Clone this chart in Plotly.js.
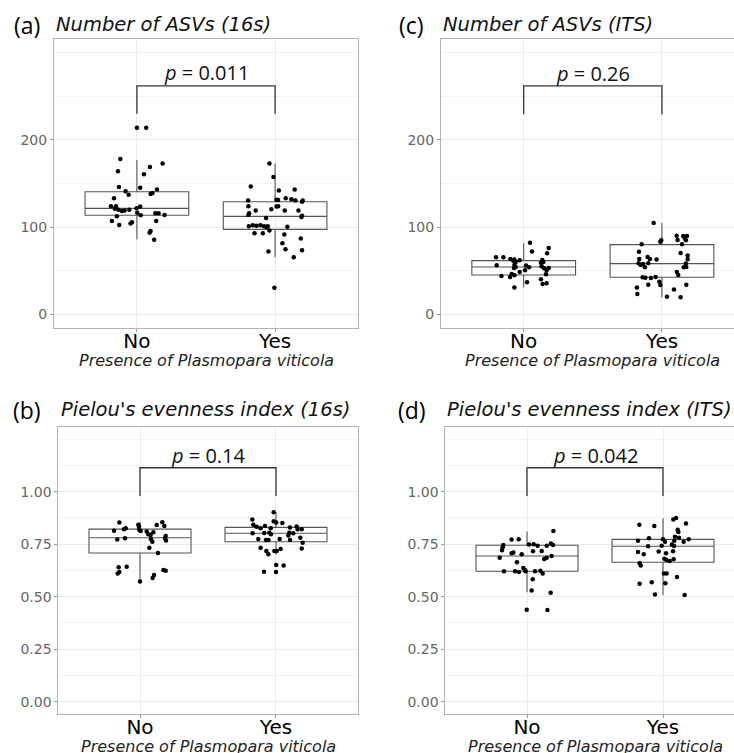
<!DOCTYPE html>
<html>
<head>
<meta charset="utf-8">
<script src="https://cdn.plot.ly/plotly-3.0.1.min.js"></script>
<style>html,body{margin:0;padding:0;background:#fff;}#chart{width:734px;height:753px;}</style>
</head>
<body>
<div id="chart"></div>
<script>
// ---------- data ----------
const categories = ['No', 'Yes'];
const xAxisTitle = 'Presence of Plasmopara viticola';
const panelLetters = ['(a)', '(c)', '(b)', '(d)'];
const panelTitles = ['Number of ASVs (16s)', 'Number of ASVs (ITS)', "Pielou's evenness index (16s)", "Pielou's evenness index (ITS)"];
const pValues = ['0.011', '0.26', '0.14', '0.042'];

// (a) Number of ASVs 16s
const aNoY = [214,214,178,173,169,164,160.5,146,145,143,141,137,138,139,133,124,124,121,120,118.5,119,120,121.5,123.5,116,116,114,116.5,113.5,112.5,107,107,105.5,104,102.5,95.5,93.5,85.5];
const aNoJ = [0.00,0.067,-0.12,0.186,0.094,-0.137,0.051,-0.13,0.024,0.145,-0.082,-0.06,0.099,0.113,-0.166,-0.188,-0.152,-0.159,-0.133,-0.108,-0.089,-0.055,-0.002,0.024,0.133,0.157,0.2,0.002,0.027,-0.145,-0.181,0.14,-0.036,-0.046,-0.128,0.099,0.092,0.125];
const aYesY = [173,157.5,146.5,142,143,133,132,130.5,130.5,129,130.5,131.5,131,124,119,120.5,123.5,124,119,119,116,114,113,111.5,110.5,101,102,101.5,102,101,100,101,96,100.5,93,93,91.5,87,81.5,74.5,72,73.5,65.5,30.5];
const aYesJ = [-0.041,-0.012,-0.176,0.027,0.142,0.077,0.118,0.147,0.2,0.195,-0.195,0.01,0.022,-0.193,-0.14,-0.027,0.01,0.022,0.07,0.169,-0.188,-0.193,0.195,0.19,-0.065,-0.19,-0.161,-0.135,-0.106,-0.08,-0.063,-0.053,-0.041,0.089,-0.149,-0.089,0.067,0.186,0.053,0.075,-0.048,0.195,0.135,-0.005];
const aQ1 = [113.5, 97.4], aMed = [121.5, 112.3], aQ3 = [140.6, 129.1], aLo = [86, 65.3], aHi = [177, 173];
const aBracket = [230, 262, 277]; // leg bottom, bar, label

// (c) Number of ASVs ITS
const cNoY = [82,72,76,70,65.3,65.3,63.4,61.5,60,62,62.7,62.3,60,59.2,56.2,56.6,54.3,53.1,55.8,54,55,52.7,53.1,48.5,50.4,46.2,44.7,42.8,43.9,50.4,45.9,36.7,40.1,34.8,35.5,30.6];
const cNoJ = [0.046,0.06,0.181,0.169,-0.2,-0.147,-0.096,-0.075,-0.058,-0.029,-0.067,0.135,0.142,0.125,-0.195,-0.067,-0.058,-0.07,0.017,0.039,0.13,0.147,0.181,-0.029,0.01,-0.087,-0.067,-0.099,-0.161,0.166,0.161,0.024,0.125,0.137,0.166,-0.067];
const cYesY = [104.7,83.3,84.8,90.2,85.2,89.8,89.8,87.5,84.8,80.3,80.3,71.8,70.3,67.3,63.1,63.4,65.7,63.4,62.7,58.5,57.7,56.6,58.5,53.9,58.1,54.3,53.9,48.5,45.1,42.4,42,41.6,42.8,37.4,33.6,34,34,30.6,23.3,20.2,28.3,19.5];
const cYesJ = [-0.06,-0.012,-0.005,0.106,0.113,0.154,0.181,0.164,0.173,0.145,-0.147,-0.166,0.135,0.186,0.186,-0.164,-0.104,-0.087,-0.039,-0.169,-0.137,-0.154,-0.099,-0.123,0.173,0.176,0.157,0.108,0.118,-0.14,-0.12,-0.08,-0.046,-0.019,-0.012,-0.099,0.176,-0.181,-0.178,0.036,0.087,0.135];
const cQ1 = [45.1, 42.4], cMed = [54.3, 58.1], cQ3 = [61.5, 79.9], cLo = [30.6, 19.1], cHi = [81.4, 104.7];
const cBracket = [229.5, 262, 276];

// (b) Pielou 16s
const bNoY = [0.853,0.843,0.833,0.841,0.854,0.837,0.826,0.821,0.814,0.818,0.813,0.810,0.797,0.807,0.794,0.789,0.780,0.768,0.772,0.778,0.773,0.762,0.733,0.708,0.640,0.618,0.611,0.643,0.603,0.589,0.627,0.624,0.572];
const bNoJ = [-0.152,-0.012,-0.007,0.123,0.164,0.179,-0.105,-0.118,-0.191,-0.005,0.005,0.049,0.061,0.098,0.078,0.189,0.184,0.191,-0.167,-0.11,0.081,0.091,0.069,0.132,-0.157,-0.152,-0.164,-0.098,0.103,0.093,0.172,0.189,0.0];
const bYesY = [0.902,0.868,0.859,0.853,0.851,0.843,0.833,0.826,0.837,0.826,0.830,0.834,0.821,0.821,0.805,0.802,0.792,0.802,0.803,0.805,0.797,0.781,0.775,0.770,0.770,0.775,0.770,0.757,0.729,0.733,0.718,0.702,0.718,0.718,0.727,0.651,0.649,0.619,0.618];
const bYesJ = [-0.017,-0.174,-0.017,0.002,0.047,-0.167,-0.142,-0.113,-0.081,-0.039,0.103,0.152,0.159,0.189,0.098,0.127,0.091,-0.172,-0.086,-0.049,-0.037,0.179,-0.13,-0.074,-0.056,0.027,0.103,0.196,0.189,-0.113,-0.071,-0.056,-0.012,0.005,0.034,0.002,0.056,-0.088,0.0];
const bQ1 = [0.708, 0.762], bMed = [0.781, 0.802], bQ3 = [0.822, 0.830], bLo = [0.572, 0.700], bHi = [0.855, 0.902];
const bBracket = [0.98, 1.114, 1.173];

// (d) Pielou ITS
const dNoY = [0.813,0.772,0.773,0.746,0.735,0.721,0.686,0.710,0.707,0.702,0.748,0.750,0.743,0.718,0.743,0.753,0.746,0.716,0.680,0.686,0.694,0.664,0.621,0.621,0.618,0.637,0.627,0.621,0.621,0.624,0.611,0.583,0.530,0.519,0.438,0.437];
const dNoJ = [0.194,-0.113,-0.061,-0.174,-0.179,-0.184,-0.201,-0.1,-0.113,-0.039,0.015,0.049,0.078,0.108,0.145,0.176,0.191,0.044,0.127,0.145,0.181,-0.074,-0.169,-0.088,-0.059,-0.027,-0.015,-0.01,0.059,0.098,0.115,0.042,0.034,0.174,-0.002,0.15];
const dYesY = [0.868,0.875,0.843,0.837,0.849,0.819,0.808,0.767,0.778,0.773,0.786,0.781,0.762,0.773,0.767,0.740,0.743,0.762,0.748,0.741,0.713,0.702,0.715,0.707,0.716,0.681,0.675,0.670,0.678,0.659,0.648,0.611,0.610,0.594,0.562,0.569,0.564,0.510,0.508];
const dYesJ = [0.076,0.096,-0.174,-0.064,0.169,0.108,0.113,-0.184,-0.103,0.0,0.088,0.118,0.152,0.189,0.083,-0.11,-0.01,0.015,0.066,0.081,-0.184,-0.142,-0.032,0.022,0.074,0.01,0.025,0.049,0.078,-0.172,-0.164,0.007,0.027,0.103,-0.172,-0.083,0.017,-0.059,0.159];
const dQ1 = [0.621, 0.664], dMed = [0.694, 0.740], dQ3 = [0.745, 0.773], dLo = [0.521, 0.508], dHi = [0.811, 0.873];
const dBracket = [0.98, 1.114, 1.173];

const countTicks = [0, 100, 200];
const evenTicks = [0, 0.25, 0.5, 0.75, 1];
const evenTickText = ['0.00', '0.25', '0.50', '0.75', '1.00'];

// ---------- layout helpers ----------
const W = 734, H = 753;
const fx = v => v / W;
const fy = v => 1 - v / H;

const panels = [
  {sfx: '',  noY: aNoY, noJ: aNoJ, yesY: aYesY, yesJ: aYesJ, q1: aQ1, med: aMed, q3: aQ3, lo: aLo, hi: aHi, br: aBracket,
   dx: [54, 358], dy: [39, 328], xr: [-0.6, 1.6], yr: [-15.75, 315.75], count: true, mirror: true,
   letterX: 12, titleX: 54, titleY: 25, axTitleY: 360},
  {sfx: '2', noY: cNoY, noJ: cNoJ, yesY: cYesY, yesJ: cYesJ, q1: cQ1, med: cMed, q3: cQ3, lo: cLo, hi: cHi, br: cBracket,
   dx: [441, 734], dy: [39, 328], xr: [-0.598, 1.521], yr: [-15.75, 315.75], count: true, mirror: false,
   letterX: 397, titleX: 441, titleY: 25, axTitleY: 360},
  {sfx: '3', noY: bNoY, noJ: bNoJ, yesY: bYesY, yesJ: bYesJ, q1: bQ1, med: bMed, q3: bQ3, lo: bLo, hi: bHi, br: bBracket,
   dx: [58.4, 358], dy: [426.7, 714.3], xr: [-0.6, 1.603], yr: [-0.06, 1.3095], count: false, mirror: true,
   letterX: 11, titleX: 59, titleY: 410, axTitleY: 746},
  {sfx: '4', noY: dNoY, noJ: dNoJ, yesY: dYesY, yesJ: dYesJ, q1: dQ1, med: dMed, q3: dQ3, lo: dLo, hi: dHi, br: dBracket,
   dx: [445.4, 734], dy: [426.7, 714.3], xr: [-0.6, 1.522], yr: [-0.06, 1.3095], count: false, mirror: false,
   letterX: 396, titleX: 445.3, titleY: 410, axTitleY: 746}
];

const traces = [];
const layout = {
  width: W, height: H,
  margin: {l: 0, r: 0, t: 0, b: 0},
  paper_bgcolor: '#fff', plot_bgcolor: '#fff',
  showlegend: false,
  annotations: []
};

panels.forEach((p, i) => {
  const xa = 'x' + p.sfx, ya = 'y' + p.sfx;
  traces.push({
    type: 'box', xaxis: xa, yaxis: ya,
    x: [0, 1], q1: p.q1, median: p.med, q3: p.q3, lowerfence: p.lo, upperfence: p.hi,
    width: 0.75, whiskerwidth: 0, boxpoints: false,
    line: {color: '#555', width: 1.1}, fillcolor: 'rgba(255,255,255,0)',
    hoverinfo: 'skip'
  });
  traces.push({
    type: 'scatter', mode: 'markers', xaxis: xa, yaxis: ya,
    x: p.noJ.map(j => 0 + j).concat(p.yesJ.map(j => 1 + j)),
    y: p.noY.concat(p.yesY),
    marker: {color: '#000', size: 4.5},
    hoverinfo: 'skip'
  });
  traces.push({
    type: 'scatter', mode: 'lines', xaxis: xa, yaxis: ya,
    x: [0, 0, 1, 1], y: [p.br[0], p.br[1], p.br[1], p.br[0]],
    line: {color: '#333', width: 1.3},
    hoverinfo: 'skip'
  });

  layout['xaxis' + p.sfx] = {
    domain: [fx(p.dx[0]), fx(p.dx[1])],
    anchor: ya, range: p.xr,
    tickmode: 'array', tickvals: [0, 1], ticktext: categories,
    tickfont: {family: 'DejaVu Sans', size: 20, color: '#000'},
    ticks: 'outside', ticklen: 3, tickcolor: '#999',
    ticklabelstandoff: -8,
    showgrid: true, gridcolor: '#ebebeb', gridwidth: 1,
    zeroline: false,
    showline: true, linecolor: '#b3b3b3', linewidth: 1, mirror: true,
    automargin: false, fixedrange: true
  };
  layout['yaxis' + p.sfx] = {
    domain: [fy(p.dy[1]), fy(p.dy[0])],
    anchor: xa, range: p.yr,
    tickmode: 'array',
    tickvals: p.count ? countTicks : evenTicks,
    ticktext: p.count ? countTicks.map(String) : evenTickText,
    tickfont: {family: 'DejaVu Sans', size: 14, color: '#666'},
    ticks: 'outside', ticklen: 3, tickcolor: '#999',
    showgrid: true, gridcolor: '#ebebeb', gridwidth: 1,
    minor: {tickmode: 'linear', tick0: 0, dtick: p.count ? 50 : 0.125, showgrid: true, gridcolor: '#f3f3f3', gridwidth: 1, ticks: ''},
    zeroline: false,
    showline: true, linecolor: '#b3b3b3', linewidth: 1, mirror: p.mirror,
    automargin: false, fixedrange: true
  };

  // p-value label
  layout.annotations.push({
    xref: xa, yref: ya, x: 0.5, y: p.br[2],
    text: '<i>p</i> = ' + pValues[i], showarrow: false,
    xanchor: 'center', yanchor: 'middle',
    font: {family: 'Open Sans', size: 20, color: '#111'}
  });
  // panel letter
  layout.annotations.push({
    xref: 'paper', yref: 'paper', x: fx(p.letterX), y: fy(p.titleY),
    text: panelLetters[i], showarrow: false, xanchor: 'left', yanchor: 'middle',
    font: {family: 'Open Sans', size: 23, color: '#000'}
  });
  // panel title
  layout.annotations.push({
    xref: 'paper', yref: 'paper', x: fx(p.titleX), y: fy(p.titleY),
    text: '<i>' + panelTitles[i] + '</i>', showarrow: false, xanchor: 'left', yanchor: 'middle',
    font: {family: 'DejaVu Sans', size: 19.5, color: '#111'}
  });
  // x-axis title
  layout.annotations.push({
    xref: xa, yref: 'paper', x: 0.5, y: fy(p.axTitleY),
    text: '<i>' + xAxisTitle + '</i>', showarrow: false, xanchor: 'center', yanchor: 'middle',
    font: {family: 'DejaVu Sans', size: 16, color: '#222'}
  });
});

Plotly.newPlot('chart', traces, layout, {staticPlot: true, displayModeBar: false});
</script>
</body>
</html>
